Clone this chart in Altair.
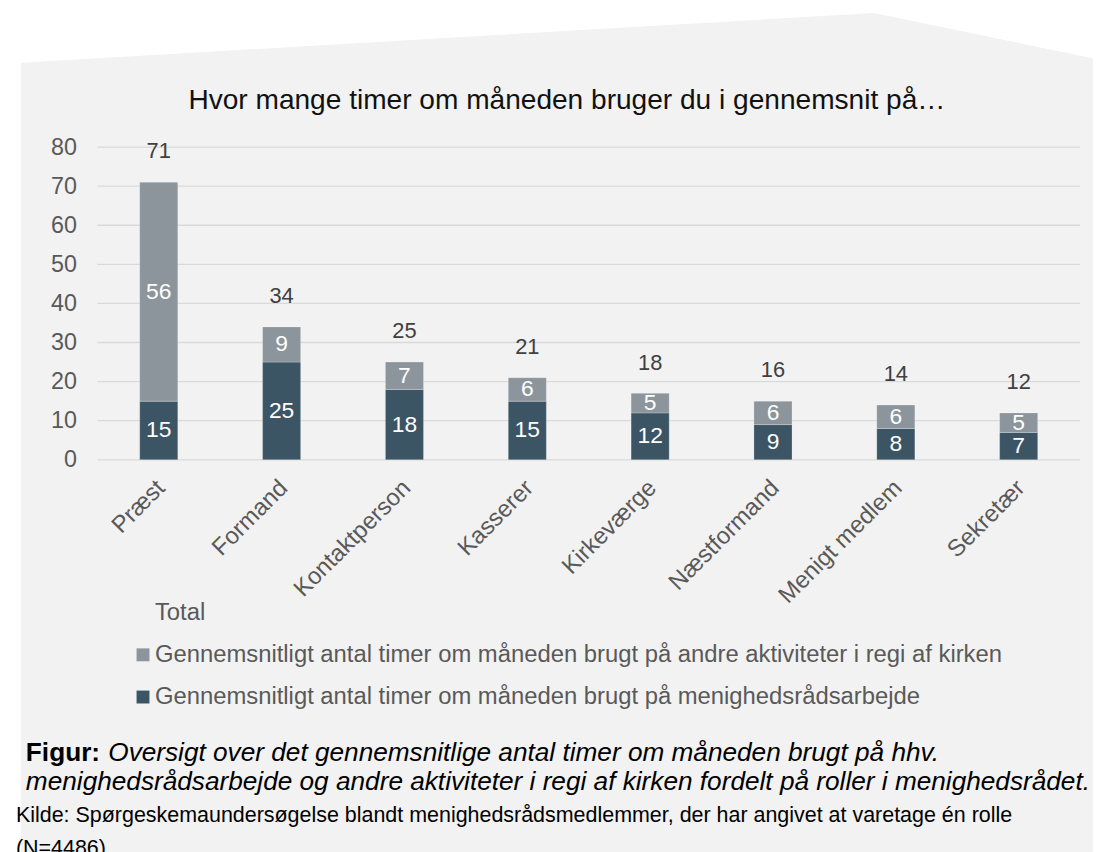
import altair as alt
import pandas as pd

# ---------------- data ----------------
roles = ["Præst", "Formand", "Kontaktperson", "Kasserer", "Kirkeværge",
         "Næstformand", "Menigt medlem", "Sekretær"]
menighed = [15, 25, 18, 15, 12, 9, 8, 7]
andre = [56, 9, 7, 6, 5, 6, 6, 5]
total = [71, 34, 25, 21, 18, 16, 14, 12]

series_total = "Total"
series_andre = "Gennemsnitligt antal timer om måneden brugt på andre aktiviteter i regi af kirken"
series_menighed = "Gennemsnitligt antal timer om måneden brugt på menighedsrådsarbejde"

y_ticks = [0, 10, 20, 30, 40, 50, 60, 70, 80]

title_text = "Hvor mange timer om måneden bruger du i gennemsnit på…"
caption_bold = "Figur:"
caption_1 = "Oversigt over det gennemsnitlige antal timer om måneden brugt på hhv."
caption_2 = "menighedsrådsarbejde og andre aktiviteter i regi af kirken fordelt på roller i menighedsrådet."
source_1 = "Kilde: Spørgeskemaundersøgelse blandt menighedsrådsmedlemmer, der har angivet at varetage én rolle"
source_2 = "(N=4486)"

# decorative background panel outline (pixels relative to plot origin)
bg_x = [-77, 782, 1010]
bg_y = [-85, -135, -88]

# ---------------- styles ----------------
FONT = "Liberation Sans"
DARK = "#3c5565"
LIGHT = "#8c959c"
AXIS_TXT = "#595959"

# ---------------- tables ----------------
rows = []
for r, m, a in zip(roles, menighed, andre):
    rows.append({"role": r, "series": series_menighed, "y0": 0, "y1": m, "mid": m / 2, "val": m})
    rows.append({"role": r, "series": series_andre, "y0": m, "y1": m + a, "mid": m + a / 2, "val": a})
seg = pd.DataFrame(rows)
tot = pd.DataFrame({"role": roles, "top": [m + a for m, a in zip(menighed, andre)], "total": total})
grid = pd.DataFrame({"t": y_ticks})

xscale = alt.Scale(domain=roles, paddingInner=0.69, paddingOuter=0.345)
yscale = alt.Scale(domain=[0, 80])

xaxis = alt.Axis(title=None, labelAngle=-45, labelAlign="right", labelBaseline="top",
                 labelFontSize=24, labelColor=AXIS_TXT, labelFont=FONT, labelPadding=16,
                 labelOffset=-6, ticks=False, domain=False, grid=False,
                 labelLimit=400, zindex=1)
yaxis = alt.Axis(title=None, values=y_ticks, grid=False,
                 domain=False, ticks=False, labelPadding=21, labelFontSize=23.5,
                 labelColor=AXIS_TXT, labelFont=FONT, zindex=1)

X = alt.X("role:N", sort=roles, scale=xscale, axis=xaxis)

bg = alt.Chart(pd.DataFrame({"px": bg_x, "py": bg_y})).mark_area(color="#f2f2f2").encode(
    x=alt.X("px:Q", scale=None, axis=None),
    y=alt.Y("py:Q", scale=None, axis=None, stack=None),
    y2=alt.value(712),
)

gridlines = alt.Chart(grid).mark_rule(color="#d9d9d9", strokeWidth=1.3).encode(
    y=alt.Y("t:Q", scale=yscale, axis=yaxis),
    x=alt.value(0),
    x2=alt.value(990),
)

bars = alt.Chart(seg).mark_bar(stroke="#ffffff", strokeWidth=0.8, strokeOpacity=0.3).encode(
    x=X,
    y=alt.Y("y1:Q", scale=yscale, axis=yaxis, stack=None),
    y2="y0:Q",
    color=alt.Color("series:N",
                    scale=alt.Scale(domain=[series_total, series_andre, series_menighed],
                                    range=["rgba(0,0,0,0)", LIGHT, DARK]),
                    legend=alt.Legend(orient="none", legendX=34, legendY=457, title=None,
                                      symbolType="square", symbolSize=169, symbolStrokeWidth=0,
                                      labelFontSize=24, labelColor=AXIS_TXT, labelFont=FONT,
                                      labelLimit=2000, rowPadding=18.5, labelOffset=0, padding=0,
                                      direction="vertical")),
)

seg_labels = alt.Chart(seg).mark_text(color="white", fontSize=23, font=FONT, baseline="middle").encode(
    x=X,
    y=alt.Y("mid:Q", scale=yscale, axis=yaxis),
    text="val:Q",
)

tot_labels = alt.Chart(tot).mark_text(color="#404040", fontSize=22, font=FONT,
                                       baseline="alphabetic", dy=-24).encode(
    x=X,
    y=alt.Y("top:Q", scale=yscale, axis=yaxis),
    text="total:Q",
)


def txt(text, x, y, size, **kw):
    return alt.Chart(alt.Data(values=[{}])).mark_text(
        font=FONT, fontSize=size, baseline="alphabetic", **kw
    ).encode(x=alt.value(x), y=alt.value(y), text=alt.value(text))


title_l = txt(title_text, 473, -38, 28.3, align="center", color="#111111")
cap_b = txt(caption_bold, -72, 618, 26.4, align="left", color="#000000", fontWeight="bold")
cap_1 = txt(caption_1, 11, 618, 26.4, align="left", color="#000000", fontStyle="italic")
cap_2 = txt(caption_2, -72, 648, 26.4, align="left", color="#000000", fontStyle="italic")
src_1 = txt(source_1, -82, 680, 21.6, align="left", color="#000000")
src_2 = txt(source_2, -82, 713, 21.6, align="left", color="#000000")

chart = alt.layer(bg, gridlines, bars, seg_labels, tot_labels,
                  title_l, cap_b, cap_1, cap_2, src_1, src_2).properties(
    width=990, height=315,
    padding={"left": 90, "top": 137, "right": 13, "bottom": 392},
    autosize=alt.AutoSizeParams(type="none"),
    background="white",
).configure_view(stroke=None)

chart.save("out.html", embed_options={"renderer": "svg", "actions": False})
